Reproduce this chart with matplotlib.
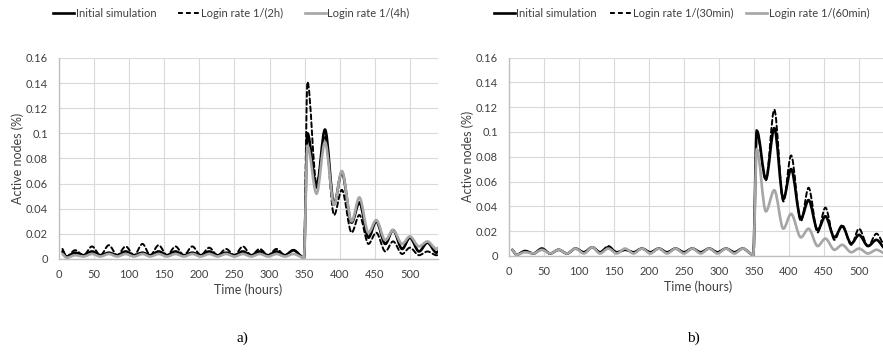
import numpy as np
import matplotlib.pyplot as plt
from matplotlib.path import Path
from matplotlib.patches import PathPatch
from matplotlib.lines import Line2D

plt.rcParams['font.family'] = ['Lato', 'DejaVu Sans']

# time of each read-off point (start, daily troughs/peaks, the burst at ~350 h)
hours = [5, 11, 23, 35, 47, 59, 71, 83, 95, 107, 119, 130, 142, 154, 166, 178,
         190, 202, 214, 226, 238, 250, 262, 274, 286, 298, 310, 322, 334, 349,
         354, 367, 379, 392, 403, 417, 428, 441, 452, 465, 476, 489, 500, 513,
         525, 538, 540]

# panel a)
a_initial = [0.006, 0.002, 0.005, 0.003, 0.006, 0.003, 0.005, 0.003, 0.006, 0.003,
             0.005, 0.003, 0.006, 0.003, 0.006, 0.003, 0.005, 0.003, 0.006, 0.003,
             0.005, 0.003, 0.006, 0.003, 0.006, 0.003, 0.006, 0.003, 0.007, 0.001,
             0.100, 0.057, 0.103, 0.044, 0.069, 0.029, 0.045, 0.017, 0.030, 0.012,
             0.023, 0.008, 0.017, 0.006, 0.013, 0.005, 0.006]
a_rate_2h = [0.008, 0.002, 0.007, 0.003, 0.010, 0.003, 0.011, 0.003, 0.010, 0.003,
             0.012, 0.003, 0.011, 0.003, 0.010, 0.003, 0.010, 0.003, 0.009, 0.003,
             0.008, 0.003, 0.010, 0.003, 0.008, 0.003, 0.008, 0.003, 0.007, 0.001,
             0.141, 0.060, 0.098, 0.035, 0.055, 0.021, 0.035, 0.012, 0.021, 0.006,
             0.014, 0.004, 0.009, 0.003, 0.006, 0.003, 0.003]
a_rate_4h = [0.004, 0.001, 0.003, 0.002, 0.004, 0.002, 0.004, 0.002, 0.004, 0.002,
             0.004, 0.002, 0.004, 0.002, 0.004, 0.002, 0.004, 0.002, 0.004, 0.002,
             0.004, 0.002, 0.004, 0.002, 0.004, 0.002, 0.004, 0.002, 0.004, 0.001,
             0.090, 0.052, 0.093, 0.043, 0.070, 0.030, 0.049, 0.021, 0.031, 0.015,
             0.023, 0.012, 0.018, 0.010, 0.014, 0.008, 0.009]

# panel b)
b_initial = [0.005, 0.001, 0.004, 0.002, 0.006, 0.002, 0.005, 0.002, 0.006, 0.003,
             0.007, 0.003, 0.007, 0.003, 0.005, 0.003, 0.006, 0.003, 0.006, 0.003,
             0.006, 0.003, 0.006, 0.003, 0.006, 0.003, 0.006, 0.003, 0.006, 0.001,
             0.101, 0.062, 0.103, 0.046, 0.070, 0.030, 0.045, 0.021, 0.032, 0.015,
             0.024, 0.010, 0.017, 0.008, 0.013, 0.006, 0.006]
b_rate_30min = [0.005, 0.001, 0.004, 0.002, 0.005, 0.002, 0.005, 0.002, 0.006, 0.003,
                0.007, 0.003, 0.008, 0.003, 0.005, 0.003, 0.006, 0.003, 0.006, 0.003,
                0.006, 0.003, 0.006, 0.003, 0.006, 0.003, 0.006, 0.003, 0.006, 0.001,
                0.100, 0.061, 0.118, 0.044, 0.081, 0.028, 0.055, 0.019, 0.039, 0.013,
                0.025, 0.009, 0.022, 0.008, 0.018, 0.008, 0.009]
b_rate_60min = [0.005, 0.001, 0.003, 0.002, 0.005, 0.002, 0.005, 0.002, 0.006, 0.002,
                0.007, 0.002, 0.006, 0.002, 0.006, 0.002, 0.006, 0.002, 0.006, 0.002,
                0.006, 0.002, 0.006, 0.002, 0.006, 0.002, 0.006, 0.002, 0.006, 0.001,
                0.086, 0.036, 0.053, 0.022, 0.034, 0.015, 0.022, 0.008, 0.014, 0.005,
                0.009, 0.003, 0.006, 0.002, 0.005, 0.002, 0.002]

x_ticks = list(range(0, 501, 50))
y_ticks = [0, 0.02, 0.04, 0.06, 0.08, 0.1, 0.12, 0.14, 0.16]
y_labels = ['0', '0.02', '0.04', '0.06', '0.08', '0.1', '0.12', '0.14', '0.16']

BLACK = '#000000'
GREY = '#a6a6a6'
TXT = '#404040'


def smooth_path(x, y):
    # smoothed line like excel: monotone cubic pieces as bezier curves
    x = np.asarray(x, float)
    y = np.asarray(y, float)
    h = np.diff(x)
    d = np.diff(y) / h
    m = np.zeros_like(y)
    for i in range(1, len(y) - 1):
        if d[i - 1] * d[i] > 0:
            w1 = 2 * h[i] + h[i - 1]
            w2 = h[i] + 2 * h[i - 1]
            m[i] = (w1 + w2) / (w1 / d[i - 1] + w2 / d[i])
    m[0], m[-1] = d[0], d[-1]
    verts = [(x[0], y[0])]
    codes = [Path.MOVETO]
    for i in range(len(h)):
        verts += [(x[i] + h[i] / 3, y[i] + m[i] * h[i] / 3),
                  (x[i + 1] - h[i] / 3, y[i + 1] - m[i + 1] * h[i] / 3),
                  (x[i + 1], y[i + 1])]
        codes += [Path.CURVE4] * 3
    return Path(verts, codes)


def draw_panel(ax, series):
    styles = [dict(color=BLACK, lw=1.9, ls='-'),
              dict(color=BLACK, lw=1.4, ls=(0, (2.5, 1.6))),
              dict(color=GREY, lw=1.9, ls='-')]
    handles = []
    for vals, st in zip(series, styles):
        ax.add_patch(PathPatch(smooth_path(hours, vals), fill=False,
                               edgecolor=st['color'], lw=st['lw'],
                               linestyle=st['ls'], capstyle='round'))
        handles.append(Line2D([], [], color=st['color'], lw=st['lw'], ls=st['ls']))
    ax.set_xlim(0, 540)
    ax.set_ylim(0, 0.16)
    ax.set_xticks(x_ticks)
    ax.set_yticks(y_ticks)
    ax.set_yticklabels(y_labels)
    ax.grid(True, color='#d9d9d9', lw=0.8)
    ax.set_axisbelow(True)
    for s in ['top', 'right']:
        ax.spines[s].set_visible(False)
    for s in ['left', 'bottom']:
        ax.spines[s].set_color('#bfbfbf')
        ax.spines[s].set_linewidth(1.0)
    ax.tick_params(length=0, labelsize=8, colors=TXT, pad=7)
    ax.tick_params(axis='y', pad=8)
    ax.set_xlabel('Time (hours)', fontsize=9, color=TXT, labelpad=3)
    ax.set_ylabel('Active nodes (%)', fontsize=9, color=TXT, labelpad=1)
    return handles


fig = plt.figure(figsize=(8.83, 3.53), dpi=100)
ax_a = fig.add_axes([0.0668, 0.2663, 0.4292, 0.5694])
ax_b = fig.add_axes([0.5764, 0.2748, 0.4281, 0.5623])

names_a = ['Initial simulation', 'Login rate 1/(2h)', 'Login rate 1/(4h)']
names_b = ['Initial simulation', 'Login rate 1/(30min)', 'Login rate 1/(60min)']

h_a = draw_panel(ax_a, [a_initial, a_rate_2h, a_rate_4h])
h_b = draw_panel(ax_b, [b_initial, b_rate_30min, b_rate_60min])

for h, names, cx, gap in [(h_a, names_a, 0.262, 2.0), (h_b, names_b, 0.772, 1.2)]:
    fig.legend(h, names, loc='center', bbox_to_anchor=(cx, 0.963), ncol=3,
               frameon=False, fontsize=8, handlelength=1.9, handletextpad=0.1,
               columnspacing=gap, labelcolor=TXT)

fig.text(0.275, 0.043, 'a)', ha='center', va='center', fontsize=11,
         family='Liberation Serif')
fig.text(0.785, 0.043, 'b)', ha='center', va='center', fontsize=11,
         family='Liberation Serif')

fig.savefig('out.png', dpi=100)
